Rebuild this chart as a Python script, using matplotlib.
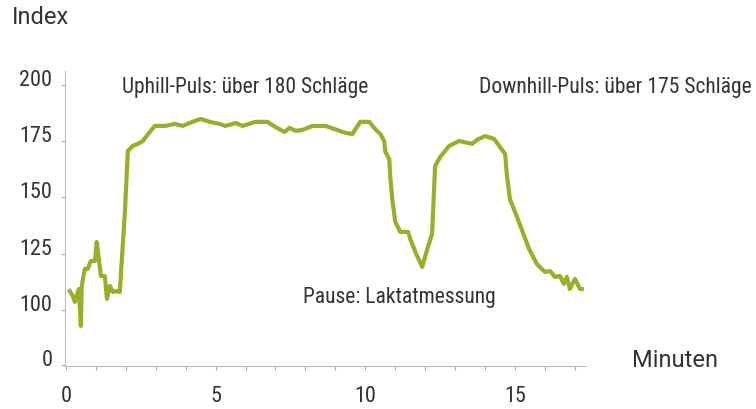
import matplotlib.pyplot as plt

plt.rcParams['font.family'] = ['Roboto Condensed', 'DejaVu Sans']

# heart rate trace (minutes, index)
minutes = [0.13, 0.23, 0.30, 0.43, 0.50, 0.53, 0.63, 0.73, 0.83, 0.97, 1.03, 1.17, 1.30,
           1.37, 1.47, 1.57, 1.70, 1.80, 1.97, 2.07, 2.23, 2.40, 2.57, 2.80, 2.97, 3.33,
           3.63, 3.90, 4.23, 4.50, 4.80, 5.13, 5.33, 5.67, 5.90, 6.33, 6.73, 7.00, 7.30,
           7.47, 7.67, 7.90, 8.23, 8.67, 8.97, 9.33, 9.57, 9.83, 10.13, 10.33, 10.50,
           10.63, 10.67, 10.80, 10.83, 10.90, 11.00, 11.17, 11.43, 11.50, 11.67, 11.90,
           12.07, 12.23, 12.33, 12.50, 12.80, 13.13, 13.57, 13.73, 14.00, 14.30, 14.50,
           14.67, 14.73, 14.83, 15.13, 15.47, 15.73, 16.00, 16.17, 16.33, 16.50, 16.63,
           16.73, 16.83, 17.00, 17.17, 17.23]
index = [108.4, 106.2, 103.6, 109.3, 92.9, 110.7, 118.2, 118.2, 121.8, 121.8, 130.2, 115.1,
         115.1, 104.9, 110.7, 108.0, 108.4, 108.0, 143.6, 170.7, 172.9, 173.8, 175.1, 179.1,
         181.8, 181.8, 182.7, 181.8, 183.6, 184.9, 183.6, 182.7, 181.8, 183.1, 181.8, 183.6,
         183.6, 181.3, 179.1, 180.9, 179.6, 180.0, 181.8, 181.8, 180.4, 178.7, 178.2, 183.6,
         183.6, 180.4, 178.2, 175.1, 170.2, 167.1, 159.6, 149.3, 139.1, 134.7, 134.7, 131.6,
         125.8, 119.1, 127.1, 133.8, 164.0, 168.0, 172.9, 175.1, 173.8, 175.6, 177.3, 176.0,
         172.4, 169.3, 159.6, 149.3, 139.1, 127.1, 120.4, 116.9, 117.3, 114.7, 115.1, 111.6,
         114.7, 109.3, 113.8, 109.3, 109.3]

x_ticks = [0, 5, 10, 15]
y_ticks = [75.5, 100, 125, 150, 175, 200]
y_tick_labels = ['0', '100', '125', '150', '175', '200']

text_color = '#333333'
line_color = '#9aae2a'

fig = plt.figure(figsize=(7.56, 4.10), dpi=100)
ax = fig.add_axes([65 / 756, 43 / 410, 521 / 756, 295 / 410])

ax.plot(minutes, index, color=line_color, linewidth=3.0, solid_joinstyle='round')

ax.set_xlim(-0.03, 17.37)
ax.set_ylim(75.1, 206.2)

ax.set_xticks(range(0, 18), minor=True)
ax.set_xticks(x_ticks)
ax.set_yticks(y_ticks, y_tick_labels)
ax.tick_params(axis='x', which='both', length=3, color='#aaaaaa', width=0.8)
ax.tick_params(axis='x', which='major', pad=11, labelsize=16, labelcolor=text_color)
ax.tick_params(axis='y', length=3, color='#aaaaaa', width=0.8, pad=6,
               labelsize=16, labelcolor=text_color)
for lbl in ax.get_yticklabels():
    lbl.set_verticalalignment('baseline')

for side in ['top', 'right']:
    ax.spines[side].set_visible(False)
for side in ['left', 'bottom']:
    ax.spines[side].set_color('#bbbbbb')
    ax.spines[side].set_linewidth(0.8)

ax.text(1.87, 199.1, 'Uphill-Puls: über 180 Schläge', fontsize=15.5, color=text_color,
        va='center', ha='left', clip_on=False)
ax.text(22.9, 199.1, 'Downhill-Puls: über 175 Schläge', fontsize=15.6, color=text_color,
        va='center', ha='right', clip_on=False)
ax.text(7.93, 106.2, 'Pause: Laktatmessung', fontsize=15.5, color=text_color,
        va='center', ha='left', clip_on=False)

fig.text(12 / 756, 1 - 17 / 410, 'Index', fontsize=17, color=text_color, va='center', ha='left',
         family=['Roboto', 'DejaVu Sans'])
fig.text(632 / 756, 1 - 361 / 410, 'Minuten', fontsize=17, color=text_color, va='center', ha='left',
         family=['Roboto', 'DejaVu Sans'])

fig.savefig('out.png', dpi=100)
